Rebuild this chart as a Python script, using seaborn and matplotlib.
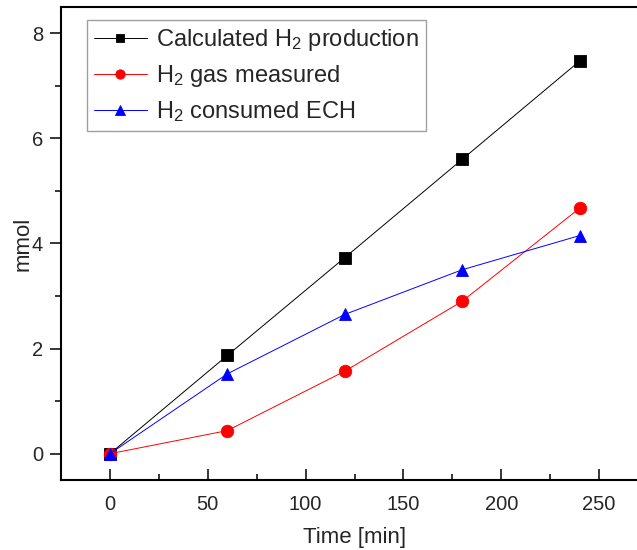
import matplotlib
matplotlib.use("Agg")
import matplotlib.pyplot as plt
from matplotlib.ticker import MultipleLocator
import seaborn as sns
import pandas as pd

sns.set_style("white")
plt.rcParams["font.family"] = ["Liberation Sans", "DejaVu Sans"]
plt.rcParams["mathtext.fontset"] = "custom"
plt.rcParams["mathtext.rm"] = "Liberation Sans"
plt.rcParams["mathtext.it"] = "Liberation Sans:italic"

time_min = [0, 60, 120, 180, 240]
h2_calculated = [0.0, 1.87, 3.73, 5.60, 7.47]
h2_measured = [0.0, 0.44, 1.57, 2.90, 4.67]
h2_consumed = [0.0, 1.52, 2.65, 3.50, 4.15]

labels = ["Calculated H$_2$ production", "H$_2$ gas measured", "H$_2$ consumed ECH"]
colors = ["black", "red", "blue"]
markers = ["s", "o", "^"]
sizes = [8, 9, 9]

fig = plt.figure(figsize=(6.37, 5.5), dpi=100)
W, H = 637, 550
ax = fig.add_axes([61 / W, 1 - 480 / H, (648 - 61) / W, (480 - 7) / H])

for vals, lab, col, mk, ms in zip([h2_calculated, h2_measured, h2_consumed],
                                  labels, colors, markers, sizes):
    df = pd.DataFrame({"t": time_min, "v": vals})
    sns.lineplot(data=df, x="t", y="v", ax=ax, color=col, marker=mk,
                 markersize=ms, markeredgewidth=0.6, markeredgecolor=col,
                 linewidth=0.7, label=lab)

ax.set_xlim(-25, 275)
ax.set_ylim(-0.5, 8.5)
ax.xaxis.set_major_locator(MultipleLocator(50))
ax.xaxis.set_minor_locator(MultipleLocator(25))
ax.yaxis.set_major_locator(MultipleLocator(2))
ax.yaxis.set_minor_locator(MultipleLocator(1))
ax.tick_params(axis="x", which="major", direction="in", length=8, width=1.3,
               labelsize=14.5, pad=11, bottom=True)
ax.tick_params(axis="x", which="minor", direction="in", length=4, width=1.3,
               bottom=True)
ax.tick_params(axis="y", which="major", direction="out", length=8, width=1.3,
               labelsize=14.5, pad=5, left=True)
ax.tick_params(axis="y", which="minor", direction="out", length=4, width=1.3,
               left=True)
for s in ax.spines.values():
    s.set_linewidth(1.5)
    s.set_color("black")

ax.set_xlabel("Time [min]", fontsize=16, labelpad=9)
ax.set_ylabel("mmol", fontsize=16, labelpad=-1)

leg = ax.legend(loc="upper left", bbox_to_anchor=(0.0438, 0.9725), fontsize=17,
                frameon=True, fancybox=False, edgecolor="#888888",
                handlelength=2.25, handletextpad=0.38, borderpad=0.3,
                borderaxespad=0, labelspacing=0.42, markerscale=0.75)
leg.get_frame().set_linewidth(1.0)

fig.savefig("out.png", dpi=100)
